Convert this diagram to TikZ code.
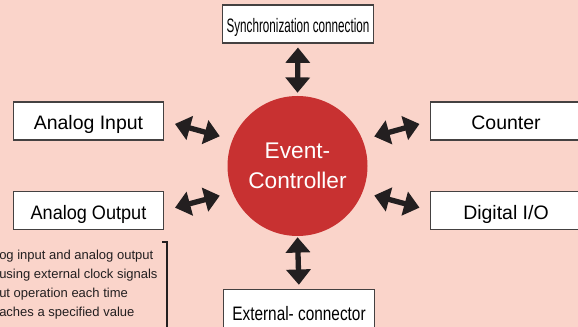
\documentclass[tikz,border=0pt]{standalone}
\usepackage{fontspec}
\setmainfont{Liberation Sans}
\usetikzlibrary{arrows.meta}

\definecolor{pagebg}{HTML}{FAD4CA}
\definecolor{ctrlred}{HTML}{C83131}
\definecolor{inkdark}{HTML}{231F20}

\begin{document}
\begin{tikzpicture}[x=0.75pt, y=-0.75pt,
  unit/.style={draw=inkdark!85, line width=0.8pt, fill=white, minimum width=113pt, minimum height=28.5pt, inner sep=0pt, text height=13.5pt, text depth=0pt, font=\fontsize{14.6}{17}\selectfont},
  hub/.style={circle, fill=ctrlred, minimum size=105pt, inner sep=0pt, text=white, align=center, font=\fontsize{17}{22.5}\selectfont},
  link/.style={{Triangle[width=18pt,length=11.5pt]}-{Triangle[width=18pt,length=11.5pt]}, line width=4pt, draw=inkdark},
  note/.style={anchor=north west, inner sep=0pt, align=left, text=inkdark, font=\fontsize{9.75}{14.25}\selectfont}
]
\fill[pagebg] (0,0) rectangle (578,327);
\clip (0,0) rectangle (578,327);

% controller in the middle
\node[hub] (ctrl) at (297.5,166) {\raisebox{-1.5pt}{Event-}\\\raisebox{-1.5pt}{Controller}};

% units around it
\node[unit] (sync) at (298,24) {\scalebox{0.6}[1]{Synchronization connection}};
\node[unit, minimum height=34pt] (ext) at (299,312) {\scalebox{0.79}[1]{External- connector}};
\node[unit] (ain) at (88.5,121) {Analog Input};
\node[unit] (aout) at (88.5,210.5) {\scalebox{0.93}[1]{Analog Output}};
\node[unit] (cnt) at (506,121) {Counter};
\node[unit] (dio) at (506,210.5) {Digital I/O};

% two-way links
\draw[link, shorten <=3pt, shorten >=2.25pt] (sync.south) -- (ctrl.north);
\draw[link, shorten <=0.75pt, shorten >=3pt] (ctrl.south) -- (ext.north);
\draw[link, shorten <=8.25pt, shorten >=9.75pt] (ain.east) -- (ctrl.158);
\draw[link, shorten <=8.25pt, shorten >=9.75pt] (aout.east) -- (ctrl.202);
\draw[link, shorten <=9pt, shorten >=8.25pt] (ctrl.22) -- (cnt.west);
\draw[link, shorten <=9pt, shorten >=8.25pt] (ctrl.338) -- (dio.west);

% side note with its bracket
\node[note] (memo) at (-1,250) {og input and analog output\\using external clock signals\\ut operation each time\\aches a specified value};
\draw[inkdark, line width=0.8pt] (162,242) -- (167,242) -- (167,330);
\end{tikzpicture}
\end{document}
